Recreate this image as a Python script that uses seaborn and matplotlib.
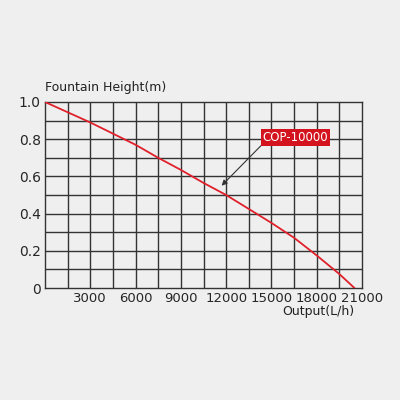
import matplotlib
matplotlib.use("Agg")
import matplotlib.pyplot as plt
import seaborn as sns
import pandas as pd

flow = [0, 1500, 3000, 4500, 6000, 7500, 9000, 10500, 12000, 13500, 15000, 16500, 18000, 19500, 20500]
height = [1.0, 0.945, 0.89, 0.83, 0.77, 0.70, 0.635, 0.565, 0.50, 0.425, 0.35, 0.27, 0.175, 0.075, 0.0]
xticks = [3000, 6000, 9000, 12000, 15000, 18000, 21000]
yticks = [0, 0.2, 0.4, 0.6, 0.8, 1.0]
ylabels = ["0", "0.2", "0.4", "0.6", "0.8", "1.0"]
label = "COP-10000"

bg = "#efefef"
sns.set_style("white")
fig = plt.figure(figsize=(4, 4), dpi=100, facecolor=bg)
ax = fig.add_axes([45/400, 1-288/400, 317/400, 186/400], facecolor=bg)
df = pd.DataFrame({"flow": flow, "height": height})
sns.lineplot(data=df, x="flow", y="height", ax=ax, color="#e0202a", lw=1.3, zorder=3)
ax.set_xlim(0, 21000)
ax.set_ylim(0, 1.0)
for v in range(1500, 21000, 1500):
    ax.axvline(v, color="#333333", lw=1.0, zorder=1)
for i in range(1, 10):
    ax.axhline(i / 10, color="#333333", lw=1.0, zorder=1)
for s in ax.spines.values():
    s.set_color("#333333"); s.set_linewidth(1.0)
ax.set_xticks(xticks)
ax.set_xticklabels([str(t) for t in xticks], fontsize=9.5)
ax.set_yticks(yticks)
ax.set_yticklabels(ylabels, fontsize=10)
ax.tick_params(length=0, pad=3)
ax.set_xlabel(""); ax.set_ylabel("")
fig.text(45/400, 1-88/400, "Fountain Height(m)", fontsize=9, va="center", ha="left", color="#222222")
fig.text(354/400, 1-311/400, "Output(L/h)", fontsize=9, va="center", ha="right", color="#222222")
ax.annotate(label, xy=(11700, 0.55), xytext=(16600, 0.81), fontsize=8.5, color="white",
            ha="center", va="center",
            bbox=dict(boxstyle="square,pad=0.15", fc="#d3141f", ec="none"),
            arrowprops=dict(arrowstyle="-|>", color="#333333", lw=0.8, shrinkA=0, shrinkB=0,
                            mutation_scale=8, relpos=(0, 0)))
ax.plot([14500, 18600], [0.775, 0.775], color="#333333", lw=0.8, zorder=2)
fig.savefig("out.png", dpi=100, facecolor=bg)
